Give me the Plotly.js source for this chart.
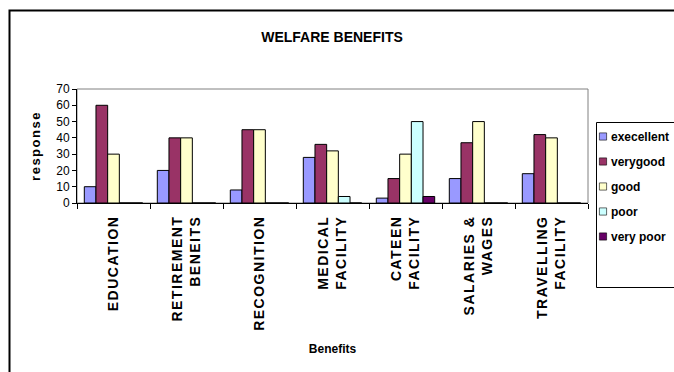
<!DOCTYPE html>
<html>
<head>
<meta charset="utf-8">
<script src="https://cdn.plot.ly/plotly-3.0.1.min.js"></script>
<style>
html,body{margin:0;padding:0;background:#fff;}
#chart{width:674px;height:372px;}
.xtick text{letter-spacing:1.5px;}
.ytitle{letter-spacing:1.5px;}
.legend .legendtext{transform:translateX(-25px);}
.legend .legendpoints path{transform:translate(7px,0px) scale(0.6);}
</style>
</head>
<body>
<div id="chart"></div>
<script>
var categories = ["EDUCATION", "RETIREMENT<br>BENEITS", "RECOGNITION", "MEDICAL<br>FACILITY", "CATEEN<br>FACILITY", "SALARIES &<br>WAGES", "TRAVELLING<br>FACILITY"];
var seriesNames = ["execellent", "verygood", "good", "poor", "very poor"];
var excellent = [10, 20, 8, 28, 3, 15, 18];
var verygood = [60, 40, 45, 36, 15, 37, 42];
var good = [30, 40, 45, 32, 30, 50, 40];
var poor = [0, 0, 0, 4, 50, 0, 0];
var verypoor = [0, 0, 0, 0, 4, 0, 0];
var colors = ["#9999FF", "#993366", "#FFFFCC", "#CCFFFF", "#660066"];
var seriesValues = [excellent, verygood, good, poor, verypoor];

var traces = seriesValues.map(function(vals, i){
  return {
    type: "bar",
    name: seriesNames[i],
    x: categories,
    y: vals,
    legendgroup: "g" + i,
    marker: {color: colors[i], line: {color: "#000", width: 1}}
  };
});

// plot area in px: left 77, right 588, top 89, bottom 203
var L = 77, R = 588, T = 89, B = 203, W = 674, H = 372;
function px(x){ return (x - L) / (R - L); }
function py(y){ return (B - y) / (B - T); }

var layout = {
  width: W, height: H,
  margin: {l: L, r: W - R, t: T, b: H - B, autoexpand: false},
  paper_bgcolor: "#fff",
  plot_bgcolor: "#fff",
  font: {family: "Arial, 'Liberation Sans', sans-serif", color: "#000", size: 12},
  title: {text: "<b>WELFARE BENEFITS</b>", font: {size: 14}, x: px(332), xanchor: "center", y: 1 - 37 / H, yanchor: "middle", xref: "paper"},
  bargap: 0.2,
  bargroupgap: 0,
  barmode: "group",
  showlegend: true,
  legend: {
    x: px(596), y: py(122), xanchor: "left", yanchor: "top",
    borderwidth: 0, bgcolor: "rgba(0,0,0,0)",
    font: {size: 12, weight: "bold"},
    traceorder: "grouped", tracegroupgap: 6,
    maxheight: 200,
    itemclick: false
  },
  xaxis: {
    type: "category",
    showline: true, linecolor: "#000", linewidth: 1,
    ticks: "outside", tickson: "boundaries", ticklen: 5, tickcolor: "#000",
    tickangle: -90,
    tickfont: {size: 14, weight: "bold"},
    ticklabelstandoff: 6,
    showgrid: false,
    title: {text: "<b>Benefits</b>", font: {size: 12}, standoff: 14},
    automargin: false
  },
  yaxis: {
    range: [0, 70], dtick: 10, tick0: 0,
    showline: true, linecolor: "#000", linewidth: 1,
    ticks: "outside", ticklen: 4, tickcolor: "#000",
    showgrid: false, zeroline: false,
    tickfont: {size: 12},
    title: {text: "<b>response</b>", font: {size: 13}, standoff: 12},
    automargin: false
  },
  shapes: [
    {type: "rect", xref: "paper", yref: "paper", x0: 0, x1: 1, y0: 0, y1: 1,
     line: {color: "#808080", width: 1}, layer: "below"},
    {type: "rect", xref: "paper", yref: "paper", x0: px(9.5), x1: px(700), y0: py(400), y1: py(10.5),
     line: {color: "#000", width: 2}, layer: "below"},
    {type: "rect", xref: "paper", yref: "paper", x0: px(596.5), x1: px(720), y0: py(287.5), y1: py(122.5),
     line: {color: "#000", width: 1}, fillcolor: "rgba(0,0,0,0)", layer: "above"}
  ]
};

Plotly.newPlot("chart", traces, layout, {displayModeBar: false, staticPlot: true});
</script>
</body>
</html>
